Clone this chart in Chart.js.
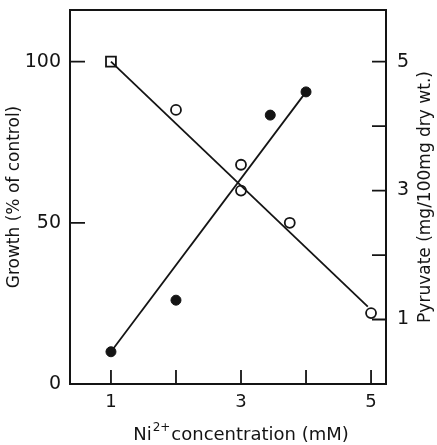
<!DOCTYPE html>
<html>
<head>
<meta charset="utf-8">
<script src="https://cdn.jsdelivr.net/npm/chart.js@4"></script>
<style>
  html, body { margin: 0; padding: 0; background: #fff; }
  #wrap { width: 437px; height: 445px; }
</style>
</head>
<body>
<div id="wrap"><canvas id="chart"></canvas></div>
<script>
// growth (% of control), open symbols
const concGrowth = [1, 2, 3, 3, 3.75, 5];
const growthPct = [100, 85, 68, 60, 50, 22];
// pyruvate (mg/100mg dry wt.), filled symbols
const concPyruvate = [1, 2, 3.45, 4];
const pyruvateVal = [0.5, 1.3, 4.17, 4.53];
// fitted lines
const growthLineX = [1, 4.95];
const growthLineY = [100, 24];
const pyruvateLineX = [1, 4];
const pyruvateLineY = [0.5, 4.53];
// tick labels and tick marks
const xLabels = [1, 3, 5];
const xTickMarks = [1, 2, 3, 4, 5];
const growthLabels = [0, 50, 100];
const growthTickMarks = [50, 100];
const pyruvateLabels = [1, 3, 5];
const pyruvateTickMarks = [1, 2, 3, 4, 5];

const ink = '#141414';
const font = 'DejaVu Sans';

const toPoints = (xs, ys) => xs.map((x, i) => ({x: x, y: ys[i]}));

const frameTicks = {
    id: 'frameTicks',
    afterDraw(chart) {
        const {ctx, chartArea: a, scales} = chart;
        ctx.save();
        ctx.strokeStyle = ink;
        ctx.lineWidth = 2;
        ctx.strokeRect(a.left, a.top, a.right - a.left, a.bottom - a.top);

        ctx.lineWidth = 1.8;
        ctx.beginPath();
        xTickMarks.forEach(v => {
            const px = scales.x.getPixelForValue(v);
            ctx.moveTo(px, a.bottom);
            ctx.lineTo(px, a.bottom - 14);
        });
        growthTickMarks.forEach(v => {
            const py = scales.y.getPixelForValue(v);
            ctx.moveTo(a.left, py);
            ctx.lineTo(a.left + 15, py);
        });
        pyruvateTickMarks.forEach(v => {
            const py = scales.y1.getPixelForValue(v);
            ctx.moveTo(a.right, py);
            ctx.lineTo(a.right - 14, py);
        });
        ctx.stroke();

        // right title, reading bottom to top
        ctx.fillStyle = ink;
        ctx.font = '17px "' + font + '"';
        ctx.textAlign = 'center';
        ctx.textBaseline = 'middle';
        ctx.save();
        ctx.translate(426, 197);
        ctx.rotate(-Math.PI / 2);
        ctx.fillText('Pyruvate (mg/100mg dry wt.)', 0, 0);
        ctx.restore();

        // x title with superscript
        const big = '18px "' + font + '"';
        const small = '12px "' + font + '"';
        ctx.textAlign = 'left';
        ctx.textBaseline = 'alphabetic';
        ctx.font = big;
        const w1 = ctx.measureText('Ni').width;
        const w3 = ctx.measureText('concentration (mM)').width;
        ctx.font = small;
        const w2 = ctx.measureText('2+').width + 2;
        const x0 = 241 - (w1 + w2 + w3) / 2;
        const base = 440;
        ctx.font = big;
        ctx.fillText('Ni', x0, base);
        ctx.font = small;
        ctx.fillText('2+', x0 + w1 + 1, base - 9);
        ctx.font = big;
        ctx.fillText('concentration (mM)', x0 + w1 + w2, base);
        ctx.restore();
    }
};

new Chart(document.getElementById('chart'), {
    type: 'scatter',
    data: {
        datasets: [
            {
                label: 'Growth fit',
                data: toPoints(growthLineX, growthLineY),
                yAxisID: 'y',
                showLine: true,
                borderColor: ink,
                borderWidth: 1.8,
                pointRadius: 0
            },
            {
                label: 'Pyruvate fit',
                data: toPoints(pyruvateLineX, pyruvateLineY),
                yAxisID: 'y1',
                showLine: true,
                borderColor: ink,
                borderWidth: 1.8,
                pointRadius: 0
            },
            {
                label: 'Growth',
                data: toPoints(concGrowth, growthPct),
                yAxisID: 'y',
                pointStyle: ['rect', 'circle', 'circle', 'circle', 'circle', 'circle'],
                pointRadius: [7, 5, 5, 5, 5, 5],
                backgroundColor: '#fff',
                borderColor: ink,
                borderWidth: 1.8
            },
            {
                label: 'Pyruvate',
                data: toPoints(concPyruvate, pyruvateVal),
                yAxisID: 'y1',
                pointStyle: 'circle',
                pointRadius: 5,
                backgroundColor: ink,
                borderColor: ink,
                borderWidth: 1
            }
        ]
    },
    options: {
        responsive: true,
        maintainAspectRatio: false,
        animation: false,
        layout: {
            padding: {top: 10, left: 0, right: 0, bottom: 0}
        },
        scales: {
            x: {
                type: 'linear',
                min: 0.37,
                max: 5.23,
                grid: {display: false, drawTicks: false},
                border: {display: false},
                afterBuildTicks: s => { s.ticks = xLabels.map(v => ({value: v})); },
                afterFit: s => { s.height = 61; s.paddingLeft = 0; s.paddingRight = 0; },
                ticks: {
                    color: ink,
                    padding: 8,
                    font: {family: font, size: 18}
                }
            },
            y: {
                position: 'left',
                min: 0,
                max: 116,
                grid: {display: false, drawTicks: false},
                border: {display: false},
                afterBuildTicks: s => { s.ticks = growthLabels.map(v => ({value: v})); },
                afterFit: s => { s.width = 70; s.paddingTop = 0; s.paddingBottom = 0; },
                ticks: {
                    color: ink,
                    padding: 9,
                    font: {family: font, size: 19}
                },
                title: {
                    display: true,
                    text: 'Growth (% of control)',
                    color: ink,
                    padding: {top: 4, bottom: 0},
                    font: {family: font, size: 17}
                }
            },
            y1: {
                position: 'right',
                min: 0,
                max: 5.8,
                grid: {display: false, drawTicks: false},
                border: {display: false},
                afterBuildTicks: s => { s.ticks = pyruvateLabels.map(v => ({value: v})); },
                afterFit: s => { s.width = 51; s.paddingTop = 0; s.paddingBottom = 0; },
                ticks: {
                    color: ink,
                    padding: 11,
                    font: {family: font, size: 19}
                }
            }
        },
        plugins: {
            legend: {display: false},
            tooltip: {enabled: false}
        }
    },
    plugins: [frameTicks]
});
</script>
</body>
</html>
